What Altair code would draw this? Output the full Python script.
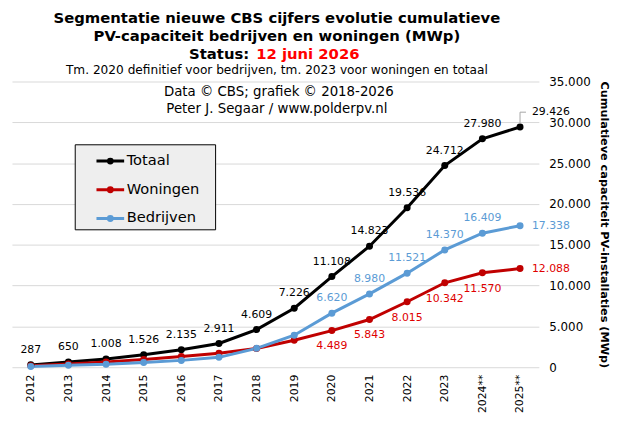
import pandas as pd
import altair as alt

jaren = ["2012", "2013", "2014", "2015", "2016", "2017", "2018", "2019",
         "2020", "2021", "2022", "2023", "2024**", "2025**"]
totaal = [287, 650, 1008, 1526, 2135, 2911, 4609, 7226,
          11108, 14823, 19536, 24712, 27980, 29426]
woningen = [190, 400, 650, 950, 1300, 1700, 2300, 3300,
            4489, 5843, 8015, 10342, 11570, 12088]
bedrijven = [97, 250, 358, 576, 835, 1211, 2309, 3926,
             6620, 8980, 11521, 14370, 16409, 17338]

series = ["Totaal", "Woningen", "Bedrijven"]
lijnkleuren = ["#000000", "#c00000", "#5b9bd5"]
tekstkleuren = ["#000000", "#e00000", "#5b9bd5"]
eerste_label = [0, 8, 8]  # vanaf welk jaar de waarden een label krijgen

FONT = "DejaVu Sans"

rows = []
for s, vals, lk, tk, start in zip(series, [totaal, woningen, bedrijven],
                                  lijnkleuren, tekstkleuren, eerste_label):
    for i, (j, v) in enumerate(zip(jaren, vals)):
        if i < start:
            plaats = ""
        elif i == len(jaren) - 1:
            plaats = "rechtsboven" if s == "Totaal" else "rechts"
        elif s == "Woningen":
            plaats = "onder"
        else:
            plaats = "boven"
        rows.append(dict(jaar=j, serie=s, waarde=v,
                         label=f"{v:,}".replace(",", "."), plaats=plaats,
                         lijnkleur=lk, tekstkleur=tk))
df = pd.DataFrame(rows)

x = alt.X("jaar:N", sort=jaren, scale=alt.Scale(type="point", padding=0.5),
          axis=alt.Axis(title=None, labelAngle=270, ticks=False, domain=False,
                        grid=False, labelFontSize=11, labelPadding=7))
y = alt.Y("waarde:Q", scale=alt.Scale(domain=[0, 35000], nice=False),
          axis=alt.Axis(orient="right", values=list(range(0, 35001, 5000)),
                        labelExpr="replace(format(datum.value, ','), ',', '.')",
                        title="Cumulatieve capaciteit PV-installaties (MWp)",
                        titleFontWeight="bold", titleFontSize=11.4,
                        titlePadding=8, labelFontSize=12, labelPadding=10,
                        ticks=False, domain=False))

# legend symbol: line with a dot
SYMBOOL = "M-1.4,0H1.4M-0.2,0A0.2,0.2,0,1,0,0.2,0A0.2,0.2,0,1,0,-0.2,0Z"

legendekader = alt.Chart(pd.DataFrame({"a": [0]})).mark_rect(
    fill="#eeeeee", stroke="black", strokeWidth=1
).encode(x=alt.value(64), x2=alt.value(206), y=alt.value(64), y2=alt.value(150))

lijnen = alt.Chart(df).mark_line(strokeWidth=3).encode(
    x=x, y=y,
    color=alt.Color("serie:N", sort=series,
                    scale=alt.Scale(domain=series, range=lijnkleuren),
                    legend=alt.Legend(orient="none", legendX=88, legendY=69,
                                      title=None, symbolType=SYMBOOL,
                                      symbolSize=400, symbolStrokeWidth=3,
                                      labelFontSize=14.8, labelOffset=5,
                                      rowPadding=9, padding=0)),
    order=alt.Order("serie:N"),
)

punten = alt.Chart(df).mark_circle(size=50, opacity=1).encode(
    x=x, y=y, color=alt.Color("lijnkleur:N", scale=None), detail="serie:N"
)

# small leader line to the last total label
laatste = alt.Chart(df).transform_filter("datum.plaats == 'rechtsboven'")
leider_v = laatste.mark_rule(color="#a6a6a6", strokeWidth=1,
                             yOffset=-4, y2Offset=-15).encode(
    x=x, y=y, y2="waarde:Q")
leider_h = laatste.mark_rule(color="#a6a6a6", strokeWidth=1,
                             x2Offset=6, yOffset=-15).encode(
    x=x, x2="jaar:N", y=y)


def labels(plaats, **kw):
    return alt.Chart(df).transform_filter(
        f"datum.plaats == '{plaats}'"
    ).mark_text(fontSize=11, **kw).encode(
        x=x, y=y, text="label:N", color=alt.Color("tekstkleur:N", scale=None)
    )


boven = labels("boven", dy=-15)
onder = labels("onder", dy=16)
rechts = labels("rechts", align="left", dx=12)
rechtsboven = labels("rechtsboven", align="left", dx=12, dy=-15)


def kop(tekst, xpos, ypos, size, bold=False, kleur="black", align="center"):
    return alt.Chart(pd.DataFrame({"t": [tekst]})).mark_text(
        fontSize=size, fontWeight="bold" if bold else "normal", color=kleur,
        align=align, baseline="middle"
    ).encode(text="t:N", x=alt.value(xpos), y=alt.value(ypos))


koppen = [
    kop("Segmentatie nieuwe CBS cijfers evolutie cumulatieve", 268, -64, 15, True),
    kop("PV-capaciteit bedrijven en woningen (MWp)", 268, -46, 15, True),
    kop("Status:", 240, -28, 15, True, align="right"),
    kop("12 juni 2026", 247, -28, 15, True, kleur="#ff0000", align="left"),
    kop("Tm. 2020 definitief voor bedrijven, tm. 2023 voor woningen en totaal",
        268, -12, 12.3),
    kop("Data \u00a9 CBS;  grafiek \u00a9 2018-2026", 270, 11, 13.5),
    kop("Peter J. Segaar / www.polderpv.nl", 268, 28, 13.5),
]

chart = alt.layer(
    legendekader, lijnen, punten, leider_v, leider_h,
    boven, onder, rechts, rechtsboven, *koppen
).properties(
    width=533, height=289,
    autosize=alt.AutoSizeParams(type="none"),
    padding={"left": 4, "top": 72, "right": 75, "bottom": 48},
).configure(
    font=FONT
).configure_view(
    stroke=None
).configure_axis(
    gridColor="#d9d9d9", labelColor="black", titleColor="black",
    labelFont=FONT, titleFont=FONT
).configure_legend(
    labelFont=FONT, labelColor="black"
)

chart.save("out.html", embed_options={"renderer": "svg", "actions": False})
